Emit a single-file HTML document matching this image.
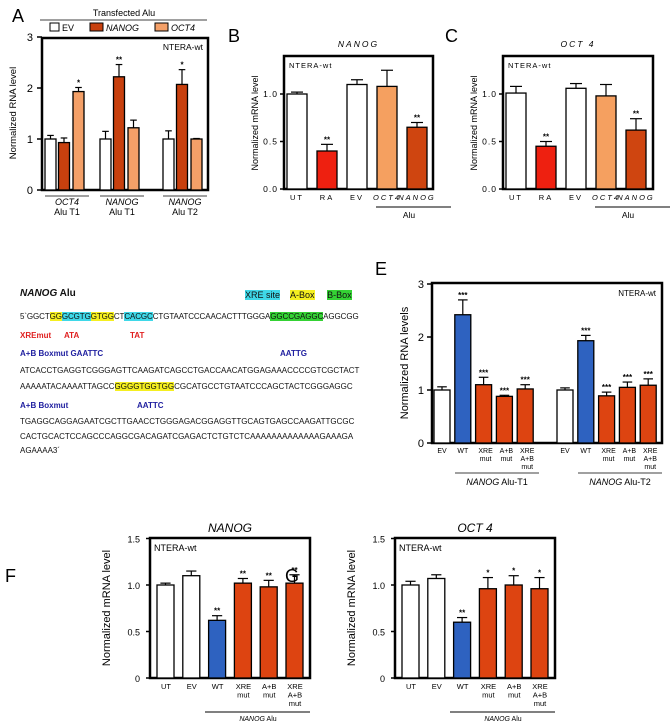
<!DOCTYPE html>
<html><head><meta charset="utf-8">
<style>
body{margin:0;background:#fff;width:672px;height:724px;overflow:hidden;position:relative;font-family:"Liberation Sans",sans-serif}
#seq{position:absolute;left:20px;top:0;font-size:8px;color:#111}
#seq div{position:absolute;white-space:nowrap;left:0}
.y{background:#f5ef20}.c{background:#3fd8e8}.g{background:#34d234}
.r{color:#e02020;font-weight:bold}.b{color:#2020a0;font-weight:bold}
</style></head>
<body>
<svg id="svg" width="672" height="724" style="position:absolute;left:0;top:0" font-family="Liberation Sans, sans-serif"></svg>
<div id="seq">
 <div style="top:288px;font-size:10px;font-weight:bold"><i>NANOG</i> Alu</div>
 <div style="top:290px;left:225px;font-size:9px"><span class="c">XRE site</span>&nbsp;&nbsp;&nbsp;&nbsp;<span class="y">A-Box</span>&nbsp;&nbsp;&nbsp;&nbsp;&nbsp;<span class="g">B-Box</span></div>
 <div style="top:312px;letter-spacing:-0.1px">5`GGCT<span class="y">GG</span><span class="c">GCGTG</span><span class="y">GTGG</span>CT<span class="c">CACGC</span>CTGTAATCCCAACACTTTGGGA<span class="g">GGCCGAGGC</span>AGGCGG</div>
 <div style="top:331px" class="r">XREmut</div>
 <div style="top:331px;left:44px" class="r">ATA</div>
 <div style="top:331px;left:110px" class="r">TAT</div>
 <div style="top:349px" class="b">A+B Boxmut GAATTC</div>
 <div style="top:349px;left:260px" class="b">AATTG</div>
 <div style="top:366px">ATCACCTGAGGTCGGGAGTTCAAGATCAGCCTGACCAACATGGAGAAACCCCGTCGCTACT</div>
 <div style="top:382px">AAAAATACAAAATTAGCC<span class="y">GGGGTGGTGG</span>CGCATGCCTGTAATCCCAGCTACTCGGGAGGC</div>
 <div style="top:401px" class="b">A+B Boxmut</div>
 <div style="top:401px;left:117px" class="b">AATTC</div>
 <div style="top:417px">TGAGGCAGGAGAATCGCTTGAACCTGGGAGACGGAGGTTGCAGTGAGCCAAGATTGCGC</div>
 <div style="top:432px">CACTGCACTCCAGCCCAGGCGACAGATCGAGACTCTGTCTCAAAAAAAAAAAAAGAAAGA</div>
 <div style="top:446px">AGAAAA3´</div>
</div>
<script>
// ---- data ----
const aGroups=["OCT4","NANOG","NANOG"];
const aSeries=["EV","NANOG","OCT4"];
const aValues=[[1.0,0.93,1.93],[1.0,2.22,1.22],[1.0,2.07,1.0]];
const aErrors=[[0.07,0.09,0.08],[0.15,0.24,0.15],[0.16,0.29,0.01]];
const aStars=[["","","*"],["","**",""],["","*",""]];
const aTicks=[0,1,2,3];
const bcCats=["UT","RA","EV","OCT4","NANOG"];
const bValues=[1.0,0.40,1.10,1.08,0.65];
const bErrors=[0.02,0.07,0.05,0.17,0.05];
const bStars=["","**","","","**"];
const cValues=[1.01,0.45,1.06,0.98,0.62];
const cErrors=[0.07,0.05,0.05,0.12,0.12];
const cStars=["","**","","","**"];
const bcTicks=["0.0","0.5","1.0"];
const eCats=["EV","WT","XRE mut","A+B mut","XRE A+B mut"];
const eT1=[1.0,2.42,1.10,0.88,1.02];
const eT1Err=[0.06,0.28,0.14,0.02,0.08];
const eT2=[1.0,1.93,0.89,1.05,1.09];
const eT2Err=[0.04,0.10,0.07,0.10,0.12];
const eStars=["","***","***","***","***"];
const eTicks=[0,1,2,3];
const fgCats=["UT","EV","WT","XRE mut","A+B mut","XRE A+B mut"];
const fValues=[1.0,1.10,0.62,1.02,0.98,1.02];
const fErrors=[0.02,0.05,0.05,0.05,0.07,0.09];
const fStars=["","","**","**","**","**"];
const gValues=[1.0,1.07,0.60,0.96,1.0,0.96];
const gErrors=[0.04,0.04,0.05,0.12,0.10,0.12];
const gStars=["","","**","*","*","*"];
const fgTicks=["0","0.5","1.0","1.5"];

const svg=document.getElementById('svg');
const NS='http://www.w3.org/2000/svg';
function el(tag,at,txt){const e=document.createElementNS(NS,tag);for(const k in at)e.setAttribute(k,at[k]);if(txt!==undefined)e.textContent=txt;svg.appendChild(e);return e;}
function txt(x,y,s,o){return el('text',Object.assign({x:x,y:y,'font-size':9,'text-anchor':'middle',fill:'#000'},o||{}),s);}
function bar(x,w,v,err,star,yf,fill,name){
  const r=el('rect',{x:x,y:yf(v),width:w,height:yf(0)-yf(v),fill:fill,stroke:'#000','stroke-width':1.3});
  
  
  const cx=x+w/2, ye=yf(v+err);
  el('line',{x1:cx,y1:yf(v),x2:cx,y2:ye,stroke:'#000','stroke-width':1.2});
  el('line',{x1:cx-w*0.3,y1:ye,x2:cx+w*0.3,y2:ye,stroke:'#000','stroke-width':1.2});
  if(star)txt(cx,ye-2,star,{'font-size':8,'font-weight':'bold'});
}
function box(l,t,r,b,name){const e=el('rect',{x:l,y:t,width:r-l,height:b-t,fill:'none',stroke:'#000','stroke-width':2.5});}
function ylab(x,y,s,fs,name){const e=txt(x,y,s,{'font-size':fs,transform:`rotate(-90 ${x} ${y})`});}

// ---- Panel A ----
(function(){
 const y0=190,ppu=51,yf=v=>y0-v*ppu;
 txt(12,22,'A',{'font-size':18,'text-anchor':'start'});
 txt(124,16,'Transfected Alu',{'font-size':9});
 el('line',{x1:40,y1:20,x2:207,y2:20,stroke:'#000','stroke-width':0.8});
 const lx=[50,90,155],cols=['#fff','#c8400e','#f4a068'];
 aSeries.forEach((s,i)=>{const r=el('rect',{x:lx[i],y:23,width:i?13:9,height:8,fill:cols[i],stroke:'#000','stroke-width':1});
  
  txt(lx[i]+(i?16:12),31,s,{'font-size':9,'text-anchor':'start','font-style':i?'italic':'normal'});});
 box(42,38,208,y0,'panel-a-plot-area');
 aTicks.forEach(t=>{el('line',{x1:37,y1:yf(t),x2:42,y2:yf(t),stroke:'#000','stroke-width':1.5});txt(33,yf(t)+4,t,{'font-size':11,'text-anchor':'end'});});
 ylab(16,113,'Normalized RNA level',9.5,'panel-a-y-axis-title');
 txt(203,50,'NTERA-wt',{'font-size':8.5,'text-anchor':'end'});
 const gx=[45,100,163],off=[0,13.5,28];
 aValues.forEach((g,gi)=>{g.forEach((v,i)=>bar(gx[gi]+off[i],11,v,aErrors[gi][i],aStars[gi][i],yf,cols[i],'bar-a-'+gi+'-'+i));
  el('line',{x1:gx[gi],y1:196,x2:gx[gi]+44,y2:196,stroke:'#000','stroke-width':0.8});
  txt(gx[gi]+22,205,aGroups[gi],{'font-size':9,'font-style':'italic'});
  txt(gx[gi]+22,215,'Alu '+(gi==2?'T2':'T1'),{'font-size':9});});
})();

// ---- Panels B & C ----
function bc(L,R,vals,errs,stars,title,letter,lx,key){
 const y0=189,ppu=95,yf=v=>y0-v*ppu;
 txt(lx,42,letter,{'font-size':18,'text-anchor':'start'});
 txt((L+R)/2,47,title,{'font-size':8.5,'font-style':'italic','letter-spacing':'2'});
 box(L,56,R,y0,'panel-'+key+'-plot-area');
 bcTicks.forEach((t,i)=>{const v=i*0.5;el('line',{x1:L-4,y1:yf(v),x2:L,y2:yf(v),stroke:'#000','stroke-width':1.5});txt(L-6,yf(v)+3,t,{'font-size':8.5,'text-anchor':'end','letter-spacing':'1'});});
 ylab(L-26,y0-66,'Normalized mRNA level',9,'panel-'+key+'-y-axis-title');
 txt(L+5,68,'NTERA-wt',{'font-size':7.5,'text-anchor':'start','letter-spacing':'1'});
 const cols=['#fff','#ee2010','#fff','#f5a060','#cf4510'];
 vals.forEach((v,i)=>{const x=L+3+i*30;bar(x,20,v,errs[i],stars[i],yf,cols[i],'bar-'+key+'-'+bcCats[i].toLowerCase());
  txt(x+10,200,bcCats[i],{'font-size':7.5,'letter-spacing':'2','font-style':i>2?'italic':'normal'});});
 el('line',{x1:L+92,y1:207,x2:L+167,y2:207,stroke:'#000','stroke-width':1});
 txt(L+125,218,'Alu',{'font-size':8.5});
}
bc(284,433,bValues,bErrors,bStars,'NANOG','B',228,'b');
bc(503,653,cValues,cErrors,cStars,'OCT 4','C',445,'c');

// ---- Panel E ----
(function(){
 const y0=443,ppu=53,yf=v=>y0-v*ppu,L=432,R=662;
 txt(375,275,'E',{'font-size':18,'text-anchor':'start'});
 box(L,283,R,y0,'panel-e-plot-area');
 eTicks.forEach(t=>{el('line',{x1:L-5,y1:yf(t),x2:L,y2:yf(t),stroke:'#000','stroke-width':1.5});txt(L-8,yf(t)+4,t,{'font-size':11,'text-anchor':'end'});});
 ylab(408,363,'Normalized RNA levels',11,'panel-e-y-axis-title');
 txt(656,296,'NTERA-wt',{'font-size':8,'text-anchor':'end'});
 const cols=['#fff','#2e62c0','#dd4411','#dd4411','#dd4411'];
 [[eT1,eT1Err,434,'T1'],[eT2,eT2Err,557,'T2']].forEach(([vals,errs,x0,tag])=>{
  vals.forEach((v,i)=>{const x=x0+i*20.8;bar(x,16,v,errs[i],eStars[i],yf,cols[i],'bar-e-'+tag+'-'+i);
   eCats[i].split(' ').forEach((w,k)=>txt(x+8+(eCats[i].split(' ').length>1?2:0),453+k*8,w,{'font-size':7}));});
  el('line',{x1:x0+21,y1:473,x2:x0+105,y2:473,stroke:'#000','stroke-width':0.8});
  const t=el('text',{x:x0+63,y:485,'font-size':9,'text-anchor':'middle'});
  t.innerHTML='<tspan font-style="italic">NANOG</tspan> Alu-'+tag;
 });
})();

// ---- Panels F & G ----
function fg(L,vals,errs,stars,title,letter,lx,ly,key){
 const y0=678,ppu=93,yf=v=>y0-v*ppu,R=L+160;
 txt(lx,ly,letter,{'font-size':18,'text-anchor':'start'});
 txt((L+R)/2,532,title,{'font-size':12,'font-style':'italic'});
 box(L,538,R,y0,'panel-'+key+'-plot-area');
 fgTicks.forEach((t,i)=>{const v=i*0.5;el('line',{x1:L-4,y1:yf(v),x2:L,y2:yf(v),stroke:'#000','stroke-width':1.5});txt(L-10,yf(v)+4,t,{'font-size':9,'text-anchor':'end'});});
 ylab(L-40,608,'Normalized mRNA level',11,'panel-'+key+'-y-axis-title');
 txt(L+4,551,'NTERA-wt',{'font-size':9,'text-anchor':'start'});
 const cols=['#fff','#fff','#2e62c0','#dd4411','#dd4411','#dd4411'];
 vals.forEach((v,i)=>{const x=L+7+i*25.8;bar(x,17,v,errs[i],stars[i],yf,cols[i],'bar-'+key+'-'+i);
  fgCats[i].split(' ').forEach((w,k)=>txt(x+9,689+k*8.5,w,{'font-size':7.5}));});
 el('line',{x1:L+55,y1:712,x2:R,y2:712,stroke:'#000','stroke-width':1});
 const t=el('text',{x:L+108,y:721,'font-size':7,'text-anchor':'middle'});
 t.innerHTML='<tspan font-style="italic">NANOG</tspan> Alu';
}
fg(150,fValues,fErrors,fStars,'NANOG','F',5,582,'f');
fg(395,gValues,gErrors,gStars,'OCT 4','G',285,582,'g');
</script>
</body></html>
